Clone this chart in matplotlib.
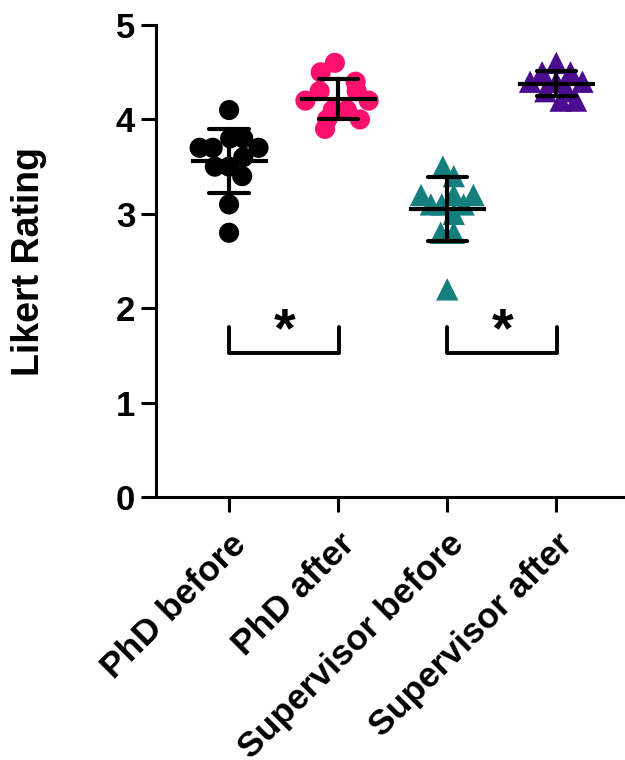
import numpy as np
import matplotlib
matplotlib.use("Agg")
import matplotlib.pyplot as plt

plt.rcParams['font.family'] = ['Liberation Sans', 'DejaVu Sans']
plt.rcParams['font.weight'] = 'bold'

# groups and ratings
groups = ['PhD before', 'PhD after', 'Supervisor before', 'Supervisor after']
phd_before = [4.1, 3.8, 3.8, 3.7, 3.7, 3.7, 3.6, 3.5, 3.5, 3.4, 3.1, 2.8]
phd_before_dx = [0.0, 0.01, 0.13, -0.27, -0.15, 0.27, 0.13, -0.13, 0.0, 0.12, 0.0, 0.0]
phd_after = [4.6, 4.5, 4.4, 4.3, 4.3, 4.2, 4.2, 4.1, 4.1, 4.0, 4.0, 3.9]
phd_after_dx = [-0.03, -0.16, 0.16, -0.17, 0.17, -0.30, 0.28, -0.05, 0.08, -0.10, 0.20, -0.12]
sup_before = [3.5, 3.4, 3.2, 3.2, 3.2, 3.1, 3.1, 3.1, 3.0, 2.8, 2.8, 2.2]
sup_before_dx = [-0.04, 0.06, -0.24, 0.24, 0.06, -0.15, -0.05, 0.15, 0.06, -0.06, 0.06, 0.0]
sup_after = [4.6, 4.5, 4.5, 4.4, 4.4, 4.4, 4.3, 4.3, 4.2, 4.2]
sup_after_dx = [0.0, -0.13, 0.13, -0.24, 0.24, 0.0, -0.1, 0.1, 0.04, 0.18]

values = [phd_before, phd_after, sup_before, sup_after]
offsets = [phd_before_dx, phd_after_dx, sup_before_dx, sup_after_dx]
colors = ['black', '#FF0F6E', '#157F7D', '#4B0B8F']
markers = ['o', 'o', '^', '^']

fig = plt.figure(figsize=(6.25, 7.6), dpi=100)
ax = fig.add_axes([0.2496, 0.346, 0.7504, 0.621])

for i, (v, dx) in enumerate(zip(values, offsets)):
    v = np.array(v)
    x = i + np.array(dx)
    ax.scatter(x, v, s=210 if markers[i] == 'o' else 260, marker=markers[i],
               color=colors[i], edgecolors='none', zorder=2)
    m = v.mean()
    sd = v.std(ddof=1)
    ax.plot([i - 0.335, i + 0.335], [m, m], color='black', lw=3, zorder=3)
    ax.plot([i, i], [m - sd, m + sd], color='black', lw=3, zorder=3)
    for y in (m - sd, m + sd):
        ax.plot([i - 0.18, i + 0.18], [y, y], color='black', lw=3, zorder=3,
                solid_capstyle='round')

# significance brackets
for a, b in [(0, 1), (2, 3)]:
    ax.plot([a, a, b + 0.01, b + 0.01], [1.8, 1.53, 1.53, 1.8], color='black',
            lw=2.8, solid_joinstyle='round', solid_capstyle='round')
    ax.text((a + b) / 2 + 0.01, 1.47, '*', ha='center', va='bottom',
            fontsize=40, fontweight='bold')

ax.set_xlim(-0.67, 3.63)
ax.set_ylim(0, 5)
ax.set_yticks([0, 1, 2, 3, 4, 5])
ax.set_xticks(range(len(groups)))
ax.set_xticklabels(groups, rotation=45, ha='right', rotation_mode='anchor',
                   fontsize=25.5, fontweight='bold')
ax.tick_params(axis='y', labelsize=25, length=11, width=2.2, pad=4)
ax.tick_params(axis='x', length=11, width=2.2, pad=11)
for lab in ax.get_yticklabels():
    lab.set_fontweight('bold')
ax.spines['top'].set_visible(False)
ax.spines['right'].set_visible(False)
ax.spines['left'].set_linewidth(2.2)
ax.spines['bottom'].set_linewidth(2.2)
ax.set_ylabel('Likert Rating', fontsize=27, fontweight='bold')
ax.yaxis.set_label_coords(-0.232, 0.5)

fig.savefig('out.png', dpi=100)
